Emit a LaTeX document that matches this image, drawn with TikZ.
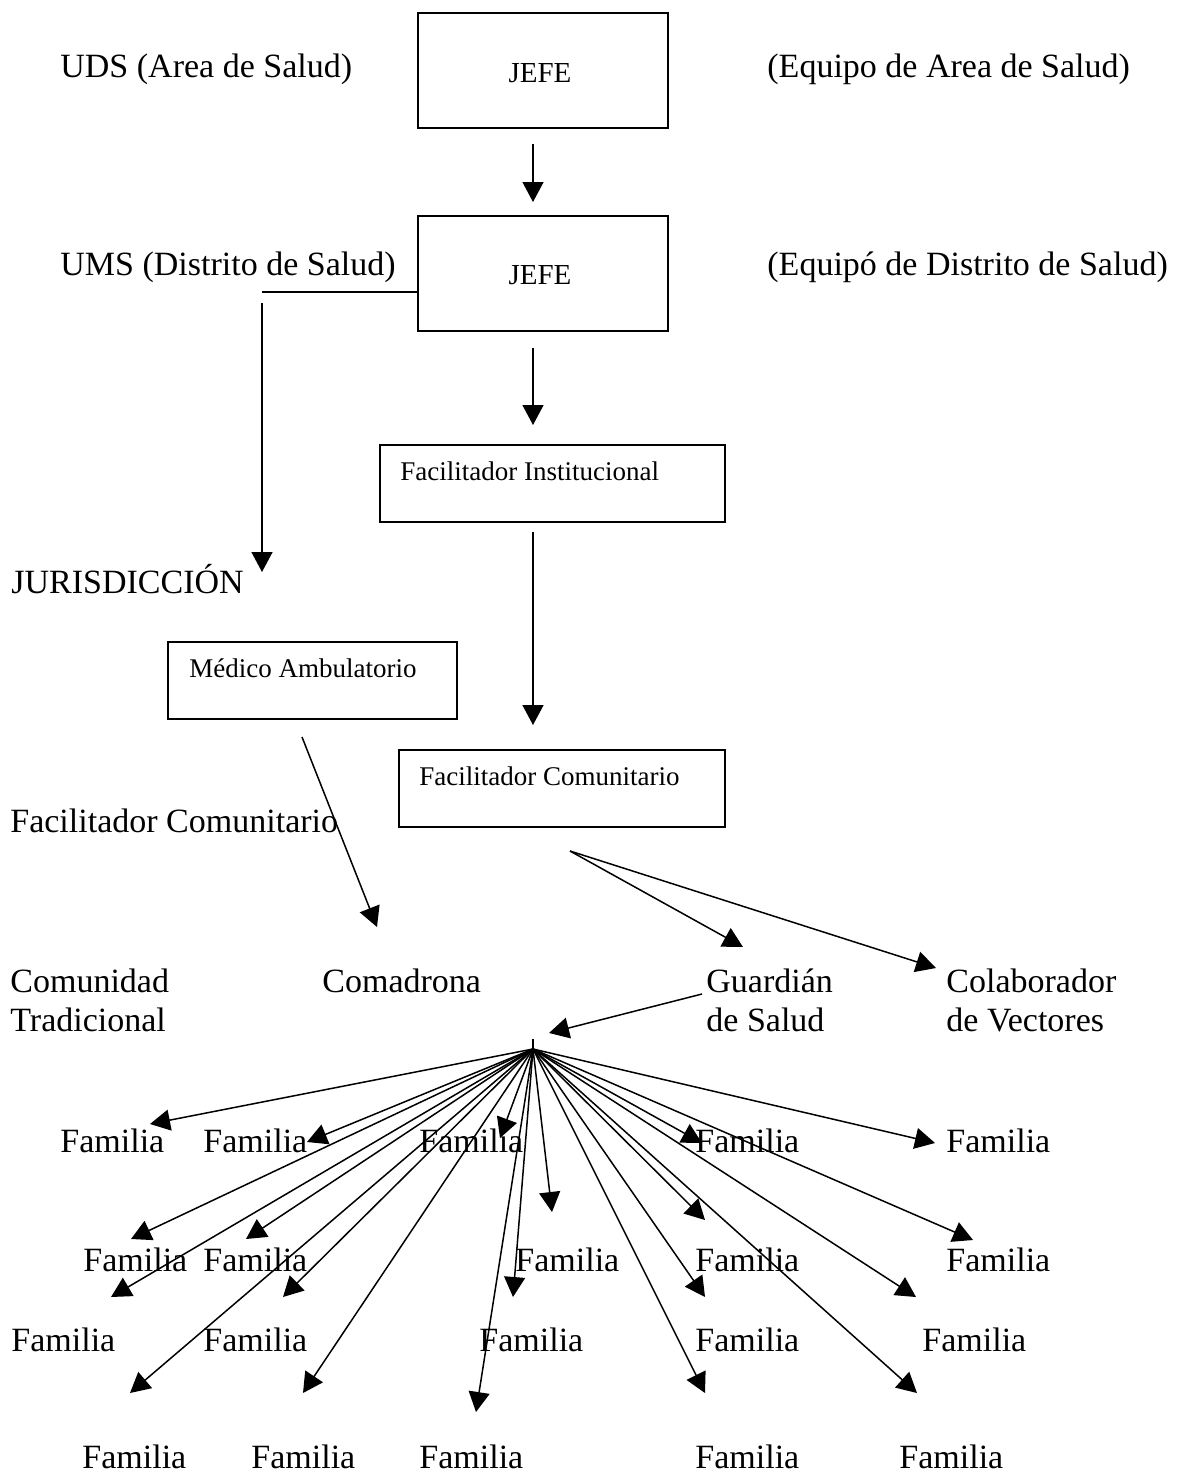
\documentclass[tikz,border=0pt]{standalone}
\usepackage{fontspec}
\setmainfont{Liberation Serif}
\usetikzlibrary{arrows.meta}
\tikzset{
  big/.style={font=\fontsize{17}{20}\selectfont, inner sep=0pt, anchor=base west},
  small/.style={font=\fontsize{13.5}{16}\selectfont, inner sep=0pt, anchor=base west},
  jefetxt/.style={font=\fontsize{14.5}{16}\selectfont, inner sep=0pt, anchor=base},
  boxed/.style={draw, line width=0.9pt, inner sep=0pt, anchor=north west},
  conn/.style={line width=0.75pt, -{Triangle[length=10pt,width=10.5pt]}},
  plain/.style={line width=0.75pt},
}
\begin{document}
\begin{tikzpicture}[x=0.5pt,y=-0.5pt]
\useasboundingbox (0,0) rectangle (1182,1478);
% boxes
\node[boxed, minimum width=125pt, minimum height=57.5pt] (jefeA) at (417,12) {};
\node[boxed, minimum width=125pt, minimum height=57.5pt] (jefeB) at (417,215) {};
\node[boxed, minimum width=172.5pt, minimum height=38.5pt] (finst) at (379,444) {};
\node[boxed, minimum width=144.5pt, minimum height=38.5pt] (medico) at (167,641) {};
\node[boxed, minimum width=163pt, minimum height=38.5pt] (fcom) at (398,749) {};
% box texts
\node[jefetxt] (jefeAt) at (540,82) {JEFE};
\node[jefetxt] (jefeBt) at (540,284) {JEFE};
\node[small] (finstt) at (400,480) {Facilitador Institucional};
\node[small] (medicot) at (189,677) {Médico Ambulatorio};
\node[small] (fcomt) at (419,785) {Facilitador Comunitario};
% labels
\node[big] (uds) at (60,77) {UDS (Area de Salud)};
\node[big] (eqa) at (767,77) {(Equipo de Area de Salud)};
\node[big] (ums) at (60,275) {UMS (Distrito de Salud)};
\node[big] (eqd) at (767,275) {(Equipó de Distrito de Salud)};
\node[big] (jur) at (11,593) {JURISDICCIÓN};
\node[big] (fcl) at (10,832) {Facilitador Comunitario};
\node[big] (com1) at (10,992) {Comunidad};
\node[big] (com2) at (10,1031) {Tradicional};
\node[big] (cmd) at (322,992) {Comadrona};
\node[big] (gua1) at (706,992) {Guardián};
\node[big] (gua2) at (706,1031) {de Salud};
\node[big] (col1) at (946,992) {Colaborador};
\node[big] (col2) at (946,1031) {de Vectores};
% Familia labels
\foreach \x [count=\i] in {60,203,419,695,946} {\node[big] (famA\i) at (\x,1152) {Familia};}
\foreach \x [count=\i] in {83,203,515,695,946} {\node[big] (famB\i) at (\x,1271) {Familia};}
\foreach \x [count=\i] in {11,203,479,695,922} {\node[big] (famC\i) at (\x,1351) {Familia};}
\foreach \x [count=\i] in {82,251,419,695,899} {\node[big] (famD\i) at (\x,1468) {Familia};}
% connectors
\coordinate (a1s) at (533,144); \coordinate (a1e) at (533,202);
\draw[conn] (a1s) -- (a1e);
\coordinate (hl) at (262,292);
\draw[plain] (hl) -- (hl -| jefeB.west);
\coordinate (vs) at (262,303); \coordinate (ve) at (262,572);
\draw[conn] (vs) -- (ve);
\coordinate (a2s) at (533,348); \coordinate (a2e) at (533,425);
\draw[conn] (a2s) -- (a2e);
\coordinate (a3s) at (533,532); \coordinate (a3e) at (533,725);
\draw[conn] (a3s) -- (a3e);
\coordinate (ms) at (302,737); \coordinate (me) at (377,927);
\draw[conn] (ms) -- (me);
\coordinate (fs) at (570,851);
\coordinate (ge) at (743,947); \coordinate (ce) at (936,968);
\draw[conn] (fs) -- (ge);
\draw[conn] (fs) -- (ce);
\coordinate (gs) at (702,994); \coordinate (he) at (549,1033);
\draw[conn] (gs) -- (he);
\coordinate (tick) at (533,1039); \coordinate (hub) at (533,1049);
\draw[plain] (tick) -- (hub);
\foreach \tx/\ty [count=\k] in {150/1124, 307/1142, 500/1138, 552/1212, 131/1239, 246/1239, 111/1297, 283/1297, 513/1297, 130/1393, 303/1393, 476/1412, 702/1143, 935/1143, 705/1220, 973/1240, 705/1297, 916/1297, 705/1393, 917/1393} {
  \coordinate (t\k) at (\tx,\ty);
  \draw[conn] (hub) -- (t\k);
}
\end{tikzpicture}
\end{document}
